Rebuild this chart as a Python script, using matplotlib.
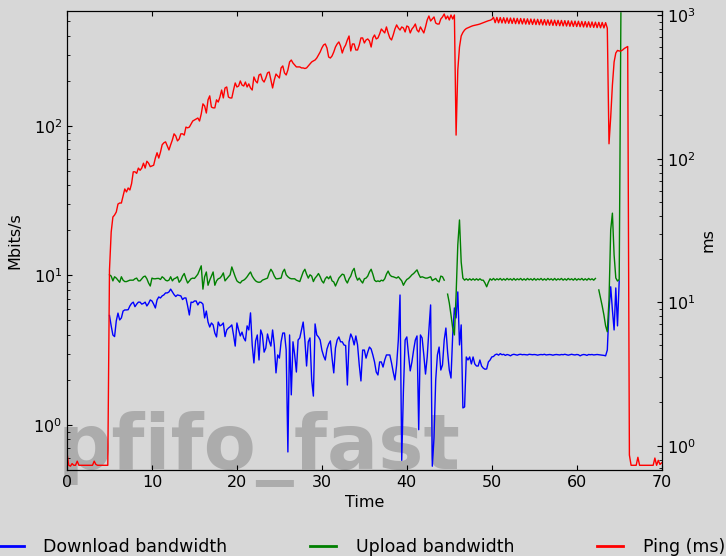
import numpy as np
import matplotlib
matplotlib.use('Agg')
import matplotlib.pyplot as plt

nan = np.nan
step = 0.2  # seconds between samples

# Mbits/s, one row per second
download = [
    nan, nan, nan, nan, nan,
    nan, nan, nan, nan, nan,
    nan, nan, nan, nan, nan,
    nan, nan, nan, nan, nan,
    nan, nan, nan, nan, nan,
    5.4, 4.6, 4.0, 3.9, 4.97,
    5.6, 5.04, 5.2, 5.78, 5.88,
    5.88, 5.9, 6.25, 6.5, 6.63,
    6.18, 6.43, 6.63, 6.63, 6.43,
    6.5, 6.63, 6.25, 6.5, 6.86,
    6.75, 6.43, 6.06, 6.86, 7.18,
    7.07, 7.3, 7.41, 7.64, 7.64,
    7.76, 8.1, 7.76, 7.45, 7.23,
    7.41, 7.35, 7.3, 6.9, 7.07,
    7.07, 6.25, 5.44, 6.63, 6.6,
    6.75, 6.75, 6.35, 6.63, 6.6,
    6.43, 5.2, 5.78, 4.88, 4.52,
    4.81, 4.67, 4.12, 3.88, 4.88,
    4.6, 4.67, 4.81, 3.9, 4.32,
    4.45, 4.54, 4.67, 4.0, 3.37,
    4.81, 4.32, 3.94, 4.18, 3.82,
    3.65, 4.6, 4.32, 5.62, 3.43,
    2.6, 3.65, 4.0, 2.72, 4.32,
    4.0, 3.07, 3.27, 4.06, 3.65,
    3.37, 4.32, 3.43, 2.23, 2.94,
    2.8, 3.6, 4.12, 4.12, 3.17,
    0.66, 4.0, 1.59, 3.6, 2.94,
    2.26, 3.7, 3.82, 4.32, 4.88,
    3.7, 2.48, 3.6, 3.82, 2.0,
    1.56, 4.74, 4.0, 3.88, 3.7,
    3.17, 2.9, 2.72, 3.22, 3.48,
    3.65, 2.8, 2.23, 3.27, 3.7,
    3.88, 3.6, 3.6, 3.43, 3.4,
    1.85, 3.6, 4.06, 3.82, 3.43,
    3.94, 3.43, 2.52, 1.97, 3.17,
    3.17, 2.8, 3.07, 3.32, 3.22,
    2.94, 2.64, 2.26, 2.16, 2.64,
    2.64, 2.44, 2.72, 2.94, 2.94,
    2.94, 2.6, 2.26, 2.0, 2.52,
    3.7, 7.4, 0.58, 1.7, 3.7,
    3.88, 2.94, 2.3, 2.64, 3.17,
    3.7, 3.94, 0.93, 4.0, 3.82,
    2.94, 2.19, 2.85, 4.32, 6.35,
    0.53, 0.82, 2.0, 2.94, 3.32,
    2.33, 2.52, 3.7, 4.45, 3.07,
    2.33, 2.06, 4.0, 6.06, 5.2,
    7.76, 3.43, 4.67, 1.3, 1.32,
    2.85, 2.72, 2.85, 2.56, 2.85,
    2.56, 2.48, 2.48, 2.72, 2.48,
    2.4, 2.36, 2.37, 2.64, 2.72,
    2.85, 2.87, 2.95, 2.98, 2.93,
    3.0, 2.95, 2.97, 2.92, 2.96,
    2.94, 2.9, 2.95, 2.97, 2.95,
    2.93, 2.96, 2.97, 2.95, 2.96,
    2.95, 2.94, 2.97, 2.96, 2.95,
    2.96, 2.95, 2.93, 2.95, 2.96,
    2.95, 2.97, 2.94, 2.95, 2.96,
    2.95, 2.93, 2.95, 2.96, 2.95,
    2.94, 2.96, 2.95, 2.97, 2.95,
    2.93, 2.95, 2.97, 2.95, 2.94,
    2.96, 2.95, 2.9, 2.94, 2.96,
    2.95, 2.92, 2.96, 2.95, 2.96,
    2.94, 2.95, 2.96, 2.95, 2.94,
    2.93, 2.92, 2.9, 3.17, 5.88,
    8.4, 5.88, 4.32, 8.25, 4.6,
    9.2,
]

upload = [
    nan, nan, nan, nan, nan,
    nan, nan, nan, nan, nan,
    nan, nan, nan, nan, nan,
    nan, nan, nan, nan, nan,
    nan, nan, nan, nan, nan,
    10.1, 9.9, 9.2, 9.8, 9.6,
    9.3, 9.0, 9.8, 9.3, 9.1,
    9.1, 9.2, 9.3, 9.3, 9.3,
    9.5, 9.6, 9.2, 9.2, 9.5,
    9.8, 9.9, 9.5, 8.9, 8.5,
    9.6, 9.5, 9.5, 9.55, 9.55,
    9.4, 9.8, 9.6, 9.3, 9.2,
    9.3, 9.8, 9.2, 9.5, 9.6,
    9.8, 9.0, 9.3, 9.9, 10.3,
    9.5, 8.9, 9.2, 9.5, 9.6,
    9.55, 9.85, 10.2, 10.9, 11.6,
    8.1, 9.8, 10.55, 8.6, 9.3,
    9.9, 10.55, 8.6, 9.2, 9.5,
    9.6, 9.9, 10.4, 9.2, 9.5,
    9.8, 10.1, 11.4, 10.55, 9.8,
    9.2, 9.0, 8.9, 9.2, 9.3,
    9.5, 9.8, 10.2, 10.55, 9.9,
    9.5, 9.2, 9.05, 9.0, 9.05,
    9.3, 9.4, 9.5, 9.6, 10.4,
    11.0, 10.55, 9.9, 9.5, 9.5,
    9.55, 9.6, 10.55, 11.0, 10.1,
    9.8, 9.6, 9.5, 9.5, 9.5,
    9.3, 9.2, 9.1, 9.8, 10.55,
    11.0, 10.2, 9.6, 10.1, 9.9,
    9.1, 9.6, 9.9, 10.3, 9.8,
    9.2, 8.9, 9.5, 9.8, 9.5,
    9.9, 9.2, 9.05, 8.5, 9.05,
    9.6, 9.9, 10.2, 10.1, 9.3,
    8.9, 9.5, 9.9, 10.7, 11.15,
    9.9, 9.3, 9.6, 9.2, 8.9,
    9.5, 9.6, 9.9, 10.55, 11.0,
    10.2, 9.3, 9.1, 9.2, 9.1,
    9.3, 9.2, 9.5, 10.2, 10.7,
    10.1, 9.85, 9.8, 9.7, 9.6,
    9.8, 9.5, 9.2, 8.6, 9.05,
    9.4, 9.55, 9.8, 10.1, 10.3,
    10.6, 10.9, 10.2, 9.7, 9.8,
    9.7, 9.6, 9.6, 9.7, 9.8,
    9.25, 9.4, 9.55, 9.2, 9.05,
    9.9, 9.8, 9.3, nan, 7.5,
    6.55, 5.44, 4.45, 4.0, 7.41,
    16.0, 23.5, 12.3, 9.6, 9.3,
    9.5, 9.3, 9.5, 9.3, 9.5,
    9.3, 9.5, 9.3, 9.5, 9.3,
    9.3, 8.9, 8.4, 9.0, 9.5,
    9.3, 9.55, 9.3, 9.5, 9.35,
    9.55, 9.3, 9.5, 9.3, 9.55,
    9.35, 9.5, 9.3, 9.55, 9.3,
    9.5, 9.35, 9.55, 9.3, 9.5,
    9.3, 9.55, 9.35, 9.5, 9.3,
    9.55, 9.3, 9.5, 9.35, 9.55,
    9.3, 9.5, 9.3, 9.55, 9.35,
    9.5, 9.3, 9.55, 9.3, 9.5,
    9.35, 9.55, 9.3, 9.5, 9.3,
    9.55, 9.35, 9.5, 9.3, 9.55,
    9.3, 9.5, 9.35, 9.55, 9.3,
    9.5, 9.3, 9.55, 9.35, 9.5,
    9.3, 9.55, nan, 8.0, 7.07,
    6.25, 5.44, 4.6, 4.2, 6.86,
    20.2, 26.1, 13.7, 9.62, 9.18,
    9.4, 570,
]

# ms
ping = [
    0.89, 0.73, 0.72, 0.75, 0.73,
    0.73, 0.78, 0.73, 0.73, 0.73,
    0.73, 0.73, 0.73, 0.73, 0.73,
    0.73, 0.78, 0.74, 0.73, 0.73,
    0.73, 0.73, 0.73, 0.73, 0.73,
    16.8, 30.8, 39.2, 40.5, 42.5,
    48.3, 49.1, 49.1, 55.0, 61.5,
    58.6, 62.5, 60.5, 67, 81,
    81, 79, 86, 83, 86,
    93, 86, 96, 93, 88,
    89, 90, 101, 110, 101,
    111, 125, 129, 131, 123,
    115, 125, 135, 149, 144,
    133, 137, 149, 149, 146,
    166, 164, 166, 174, 183,
    186, 189, 192, 183, 205,
    241, 233, 208, 257, 274,
    229, 226, 226, 257, 248,
    269, 301, 265, 311, 316,
    269, 265, 265, 301, 337,
    316, 321, 348, 326, 321,
    342, 316, 332, 311, 301,
    371, 348, 337, 383, 389,
    354, 342, 365, 396, 402,
    354, 311, 354, 389, 377,
    365, 429, 443, 396, 383,
    415, 472, 487, 464, 450,
    436, 436, 436, 429, 429,
    425, 429, 443, 457, 472,
    480, 487, 503, 528, 554,
    591, 620, 630, 591, 511,
    503, 520, 554, 600, 630,
    651, 610, 545, 591, 620,
    672, 716, 563, 630, 630,
    572, 572, 620, 694, 694,
    640, 672, 683, 661, 600,
    694, 728, 683, 694, 740,
    801, 776, 752, 828, 752,
    694, 672, 728, 801, 855,
    814, 788, 828, 814, 764,
    841, 828, 752, 801, 828,
    868, 788, 764, 828, 788,
    752, 828, 926, 987, 911,
    941, 972, 882, 868, 868,
    941, 972, 1019, 941, 987,
    926, 1003, 941, 1003, 146,
    415, 600, 716, 758, 788,
    807, 817, 828, 837, 845,
    850, 855, 861, 868, 877,
    887, 896, 906, 915, 921,
    933, 967, 887, 965, 885,
    962, 883, 960, 880, 957,
    878, 955, 876, 953, 873,
    950, 871, 948, 869, 945,
    867, 943, 864, 940, 862,
    938, 860, 936, 858, 933,
    855, 931, 853, 928, 851,
    926, 849, 923, 846, 921,
    844, 919, 842, 916, 840,
    914, 837, 911, 835, 909,
    833, 907, 831, 904, 828,
    902, 826, 899, 824, 897,
    822, 894, 819, 892, 817,
    890, 815, 887, 812, 127,
    195, 326, 472, 545, 568,
    563, 563, 572, 586, 595,
    605, 0.86, 0.73, 0.73, 0.73,
    0.73, 0.83, 0.73, 0.73, 0.73,
    0.73, 0.73, 0.73, 0.73, 0.73,
    0.73, 0.82, 0.73, 0.79, 0.74,
    0.76,
]

bg = '#d7d7d7'
plt.rcParams['font.size'] = 11.5
plt.rcParams['xtick.direction'] = 'in'
plt.rcParams['ytick.direction'] = 'in'

fig = plt.figure(figsize=(7.26, 5.56), dpi=100, facecolor=bg)
ax = fig.add_axes([0.0923, 0.1547, 0.8191, 0.8261])
ax.set_facecolor(bg)
ax2 = ax.twinx()

l1, = ax.plot(np.arange(len(download)) * step, download, color='#0000ff', lw=1.0,
              label='Download bandwidth')
l2, = ax.plot(np.arange(len(upload)) * step, upload, color='#008000', lw=1.0,
              label='Upload bandwidth')
l3, = ax2.plot(np.arange(len(ping)) * step, ping, color='#ff0000', lw=1.0,
               label='Ping (ms)')

ax.set_yscale('log')
ax2.set_yscale('log')
ax.set_xlim(0, 70)
ax.set_ylim(0.5, 590)
ax2.set_ylim(0.677, 1075)
ax.xaxis.set_ticks_position('both')
ax.set_xlabel('Time')
ax.set_ylabel('Mbits/s', labelpad=8)
ax2.set_ylabel('ms')

ax.text(0.080, 0.1565, 'pfifo_fast', transform=fig.transFigure, fontsize=54.7,
        fontweight='bold', color='#acacac', zorder=0.5, clip_on=False)

leg = fig.legend(handles=[l1, l2, l3], loc='lower left',
                 bbox_to_anchor=(-0.003, 0.0, 1.0014, 0.04),
                 mode='expand', ncol=3, frameon=False, fontsize=12.5,
                 handlelength=1.5, handletextpad=1.1,
                 borderaxespad=0, borderpad=0)
for line in leg.get_lines():
    line.set_linewidth(2)

fig.savefig('out.png', dpi=100, facecolor=bg)
